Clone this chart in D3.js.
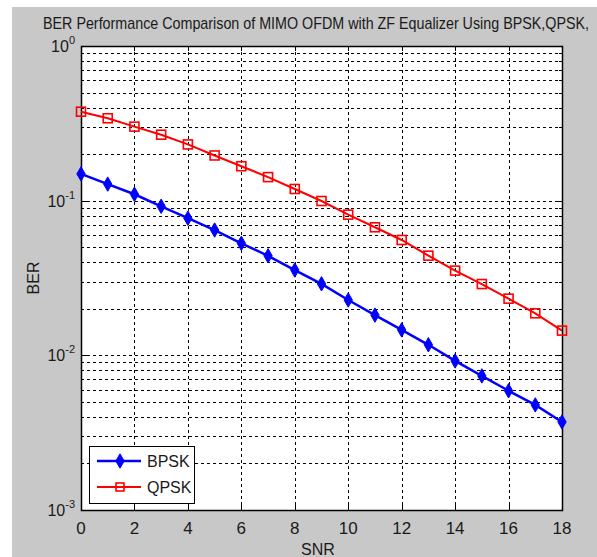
<!DOCTYPE html>
<html>
<head>
<meta charset="utf-8">
<script src="https://cdn.jsdelivr.net/npm/d3@7"></script>
<style>
  body { margin: 0; background: #ffffff; }
  text { font-family: "Liberation Sans", Arial, sans-serif; fill: #1a1a1a; }
</style>
</head>
<body>
<div id="chart"></div>
<script>
// data
const snr = [0, 1, 2, 3, 4, 5, 6, 7, 8, 9, 10, 11, 12, 13, 14, 15, 16, 17, 18];
const berBPSK = [0.149, 0.128, 0.110, 0.092, 0.077, 0.0646, 0.053, 0.044, 0.0356, 0.029,
  0.0228, 0.0182, 0.0146, 0.0117, 0.0092, 0.00736, 0.0059, 0.00478, 0.00371];
const berQPSK = [0.376, 0.341, 0.301, 0.267, 0.231, 0.196, 0.167, 0.142, 0.119, 0.0995,
  0.0812, 0.0673, 0.0557, 0.0441, 0.0353, 0.0289, 0.02325, 0.0187, 0.01445];
const xTicks = [0, 2, 4, 6, 8, 10, 12, 14, 16, 18];
const yDecades = [-3, -2, -1, 0];

const width = 597, height = 557;
const plot = { left: 81, top: 46, right: 562, bottom: 510 };

const svg = d3.select("#chart").append("svg")
  .attr("width", width).attr("height", height);

// gray figure background
svg.append("rect")
  .attr("x", 12).attr("y", 7)
  .attr("width", width - 12).attr("height", height - 7)
  .attr("fill", "#c8c8c8");

// title (narrow font, stretched vertically)
svg.append("text")
  .attr("transform", "translate(43, 29) scale(1, 1.2)")
  .attr("font-size", 14)
  .attr("textLength", 546)
  .attr("lengthAdjust", "spacingAndGlyphs")
  .text("BER Performance Comparison of MIMO OFDM with ZF Equalizer Using BPSK,QPSK,");

const x = d3.scaleLinear().domain([0, 18]).range([plot.left, plot.right]);
const y = d3.scaleLog().domain([1e-3, 1]).range([plot.bottom, plot.top]);

svg.append("rect")
  .attr("x", plot.left).attr("y", plot.top)
  .attr("width", plot.right - plot.left).attr("height", plot.bottom - plot.top)
  .attr("fill", "#ffffff");

//====== grid ======
const grid = svg.append("g")
  .attr("stroke", "#000").attr("stroke-width", 1)
  .attr("stroke-dasharray", "3,3");

let minorVals = [];
yDecades.slice(0, 3).forEach((e) => {
  for (let k = 1; k <= 9; k++) minorVals.push(k * Math.pow(10, e));
});
minorVals.push(1);

grid.selectAll(".hg").data(minorVals).join("line")
  .attr("x1", plot.left).attr("x2", plot.right)
  .attr("y1", (d) => Math.round(y(d)) + 0.5).attr("y2", (d) => Math.round(y(d)) + 0.5);

grid.selectAll(".vg").data(xTicks).join("line")
  .attr("x1", (d) => Math.round(x(d)) + 0.5).attr("x2", (d) => Math.round(x(d)) + 0.5)
  .attr("y1", plot.top).attr("y2", plot.bottom);

//====== axes box + ticks ======
const axes = svg.append("g").attr("stroke", "#000").attr("stroke-width", 1);
axes.append("rect")
  .attr("x", plot.left + 0.5).attr("y", plot.top + 0.5)
  .attr("width", plot.right - plot.left).attr("height", plot.bottom - plot.top)
  .attr("fill", "none").attr("stroke-width", 1.5);

xTicks.forEach((t) => {
  const px = Math.round(x(t)) + 0.5;
  axes.append("line").attr("x1", px).attr("x2", px).attr("y1", plot.bottom).attr("y2", plot.bottom - 5);
  axes.append("line").attr("x1", px).attr("x2", px).attr("y1", plot.top).attr("y2", plot.top + 5);
});
minorVals.forEach((v) => {
  const py = Math.round(y(v)) + 0.5;
  const major = Math.abs(Math.log10(v) - Math.round(Math.log10(v))) < 1e-9;
  const len = major ? 6 : 3;
  axes.append("line").attr("x1", plot.left).attr("x2", plot.left + len).attr("y1", py).attr("y2", py);
  axes.append("line").attr("x1", plot.right - len).attr("x2", plot.right).attr("y1", py).attr("y2", py);
});

// x tick labels
svg.selectAll(".xl").data(xTicks).join("text")
  .attr("x", (d) => x(d)).attr("y", plot.bottom + 24)
  .attr("text-anchor", "middle").attr("font-size", 17)
  .text((d) => d);

// y tick labels 10^e
yDecades.forEach((e) => {
  const t = svg.append("text")
    .attr("x", plot.left - 6).attr("y", y(Math.pow(10, e)) + 6)
    .attr("text-anchor", "end").attr("font-size", 16);
  t.append("tspan").text("10");
  t.append("tspan").attr("dy", -8).attr("font-size", 11).text(e);
});

// axis labels
svg.append("text")
  .attr("x", 318).attr("y", 555)
  .attr("text-anchor", "middle").attr("font-size", 16)
  .text("SNR");
svg.append("text")
  .attr("transform", "translate(39, 278) rotate(-90)")
  .attr("text-anchor", "middle").attr("font-size", 16)
  .text("BER");

//====== series ======
const line = d3.line().x((d) => x(d[0])).y((d) => y(d[1]));
const bpsk = snr.map((s, i) => [s, berBPSK[i]]);
const qpsk = snr.map((s, i) => [s, berQPSK[i]]);

svg.append("path").datum(qpsk)
  .attr("fill", "none").attr("stroke", "#ff0000").attr("stroke-width", 2)
  .attr("d", line);
svg.selectAll(".qm").data(qpsk).join("rect")
  .attr("x", (d) => x(d[0]) - 4.5).attr("y", (d) => y(d[1]) - 4.5)
  .attr("width", 9).attr("height", 9)
  .attr("fill", "none").attr("stroke", "#ff0000").attr("stroke-width", 1.6);

svg.append("path").datum(bpsk)
  .attr("fill", "none").attr("stroke", "#0000ff").attr("stroke-width", 2.5)
  .attr("d", line);
const diamond = d3.symbol().type(d3.symbolDiamond).size(60);
svg.selectAll(".bm").data(bpsk).join("path")
  .attr("d", diamond)
  .attr("transform", (d) => `translate(${x(d[0])}, ${y(d[1])})`)
  .attr("fill", "#0000ff").attr("stroke", "#0000ff").attr("stroke-width", 1);

//====== legend ======
const lg = svg.append("g");
lg.append("rect")
  .attr("x", 89.5).attr("y", 446.5).attr("width", 105).attr("height", 57)
  .attr("fill", "#ffffff").attr("stroke", "#000").attr("stroke-width", 1);

lg.append("line").attr("x1", 97).attr("x2", 141).attr("y1", 461).attr("y2", 461)
  .attr("stroke", "#0000ff").attr("stroke-width", 2.5);
lg.append("path").attr("d", diamond).attr("transform", "translate(120, 461)")
  .attr("fill", "#0000ff").attr("stroke", "#0000ff");
lg.append("text").attr("x", 147).attr("y", 467).attr("font-size", 16).text("BPSK");

lg.append("line").attr("x1", 97).attr("x2", 141).attr("y1", 487).attr("y2", 487)
  .attr("stroke", "#ff0000").attr("stroke-width", 2);
lg.append("rect").attr("x", 116).attr("y", 483).attr("width", 8).attr("height", 8)
  .attr("fill", "none").attr("stroke", "#ff0000").attr("stroke-width", 1.6);
lg.append("text").attr("x", 147).attr("y", 493).attr("font-size", 16).text("QPSK");
</script>
</body>
</html>
